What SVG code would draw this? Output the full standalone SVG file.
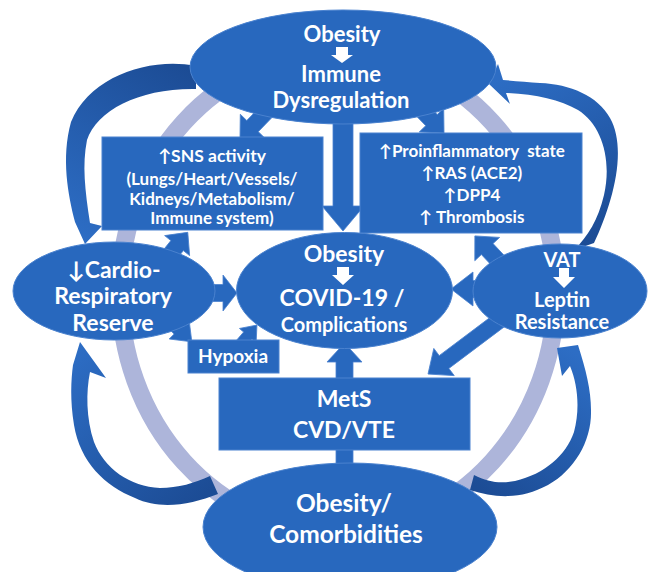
<svg xmlns="http://www.w3.org/2000/svg" width="653" height="572" viewBox="0 0 653 572">
<defs>
<style>
.n{fill:#2868be;stroke:#4a82cf;stroke-width:1}
.a{fill:#2868be;stroke:#4a82cf;stroke-width:0.8}
.t{font-family:Lato,"Liberation Sans",sans-serif;font-weight:700;fill:#fff;text-anchor:middle}
.w{fill:#fff}
</style>
<linearGradient id="gTL" gradientUnits="userSpaceOnUse" x1="190" y1="70" x2="85" y2="240"><stop offset="0" stop-color="#1c4c95"/><stop offset="1" stop-color="#2d6dc4"/></linearGradient>
<linearGradient id="gTR" gradientUnits="userSpaceOnUse" x1="585" y1="245" x2="495" y2="80"><stop offset="0" stop-color="#1c4c95"/><stop offset="1" stop-color="#2d6dc4"/></linearGradient>
<linearGradient id="gBL" gradientUnits="userSpaceOnUse" x1="210" y1="490" x2="80" y2="345"><stop offset="0" stop-color="#1c4c95"/><stop offset="1" stop-color="#2d6dc4"/></linearGradient>
<linearGradient id="gBR" gradientUnits="userSpaceOnUse" x1="478" y1="488" x2="570" y2="350"><stop offset="0" stop-color="#1c4c95"/><stop offset="1" stop-color="#2d6dc4"/></linearGradient>
</defs>
<rect width="653" height="572" fill="#fff"/>
<g id="ring"><ellipse cx="338" cy="292" rx="218" ry="240" fill="none" stroke="#adb5da" stroke-width="18"/></g>
<g id="connectors">
<path fill="url(#gTL)" d="M196,66 C150,57 90,76 71,122 C61,158 68,195 75,222 L85,244 L102,226 L90,223 C85,190 82,165 87,140 C97,110 140,88 196,89 Z"/>
<path fill="url(#gTR)" d="M574,250 L594,243 C612,205 628,150 610,118 C598,96 570,84 540,83 C528,82 515,81 503,80 L498,64 L489,84 L510,104 L506,93 C535,94 560,100 578,110 C602,125 612,160 604,195 C598,220 588,236 574,250 Z"/>
<path fill="url(#gBL)" d="M218,494 C190,505 160,510 135,498 C105,486 80,462 74,425 C70,400 71,380 73,365 L80,342 L106,378 L90,372 C86,392 86,418 94,442 C104,468 130,487 160,488 C178,488 195,483 210,476 Z"/>
<path fill="url(#gBR)" d="M470,490 C495,498 520,500 548,485 C575,470 592,440 591,410 C591,390 586,370 578,345 L557,348 L562,376 L570,366 C578,385 580,410 574,432 C566,455 545,474 515,481 C500,484 488,482 474,475 Z"/>
<path class="a" d="M0,-8 L28,-8 L28,-17 L46,0 L28,17 L28,8 L0,8 Z" transform="translate(272,106) rotate(134.1)"/>
<path class="a" d="M333,115 L353,115 L353,206 L364,206 L343,231 L322,206 L333,206 Z"/>
<path class="a" d="M0,-8 L28,-8 L28,-17 L46,0 L28,17 L28,8 L0,8 Z" transform="translate(412,100) rotate(45.9)"/>
<path class="a" d="M0,-8 L21,-8 L21,-16 L38,0 L21,16 L21,8 L0,8 Z" transform="translate(164,262) rotate(-51.3)"/>
<path class="a" d="M200,284.5 L223,284.5 L223,275 L237,293 L223,311 L223,301.5 L200,301.5 Z"/>
<path class="a" d="M0,-7 L27,-7 L27,-14 L45,0 L27,14 L27,7 L0,7 Z" transform="translate(160,310) rotate(45)"/>
<path class="a" d="M0,-5.5 L15,-5.5 L15,-11 L29,0 L15,11 L15,5.5 L0,5.5 Z" transform="translate(238,347) rotate(-49.2)"/>
<path class="a" d="M0,-8 L26,-8 L26,-17 L44,0 L26,17 L26,8 L0,8 Z" transform="translate(505,268) rotate(226.8)"/>
<path class="a" d="M484,280.5 L473,280.5 L473,272 L451,289 L473,306 L473,297.5 L484,297.5 Z"/>
<path class="a" d="M0,-8 L70,-8 L70,-17 L90,0 L70,17 L70,8 L0,8 Z" transform="translate(500,320) rotate(143.1)"/>
<path class="a" d="M336,470 L353,470 L353,362 L362,362 L344.5,343 L327,362 L336,362 Z"/>
</g>
<g id="top">
<ellipse class="n" cx="343" cy="67" rx="153" ry="57"/>
<text class="t" x="342" y="42" font-size="22">Obesity</text>
<path class="w" d="M336,47 H348 V55 H353 L342,63 L331,55 H336 Z"/>
<text class="t" x="341" y="82" font-size="22">Immune</text>
<text class="t" x="341" y="108" font-size="22">Dysregulation</text>
</g>
<g id="sns">
<rect class="n" x="102" y="137" width="221" height="93"/>
<text class="t" x="212" y="162" font-size="17.5">↑SNS activity</text>
<text class="t" x="212" y="185" font-size="17">(Lungs/Heart/Vessels/</text>
<text class="t" x="212" y="205" font-size="17">Kidneys/Metabolism/</text>
<text class="t" x="212" y="224" font-size="17">Immune system)</text>
</g>
<g id="proinf">
<rect class="n" x="360" y="133" width="222" height="100"/>
<text class="t" x="472" y="157" font-size="17" xml:space="preserve">↑Proinflammatory  state</text>
<text class="t" x="472" y="179" font-size="17">↑RAS (ACE2)</text>
<text class="t" x="472" y="201" font-size="17">↑DPP4</text>
<text class="t" x="472" y="223" font-size="17">↑ Thrombosis</text>
</g>
<g id="center">
<ellipse class="n" cx="344.5" cy="290.5" rx="108" ry="58"/>
<text class="t" x="344" y="262" font-size="23">Obesity</text>
<path class="w" d="M337,267 H349 V275 H354 L343,285 L332,275 H337 Z"/>
<text class="t" x="342" y="306" font-size="23">COVID-19 /</text>
<text class="t" x="344" y="332" font-size="20">Complications</text>
</g>
<g id="cardio">
<ellipse class="n" cx="114" cy="291" rx="101" ry="49"/>
<text class="t" x="114" y="278" font-size="23">↓Cardio-</text>
<text class="t" x="113" y="304" font-size="23">Respiratory</text>
<text class="t" x="113" y="331" font-size="23">Reserve</text>
</g>
<g id="vat">
<ellipse class="n" cx="560" cy="291" rx="87" ry="47"/>
<text class="t" x="562" y="267" font-size="20">VAT</text>
<path class="w" d="M559,268 H569 V277 H575 L564,288 L553,277 H559 Z"/>
<text class="t" x="562" y="307" font-size="20">Leptin</text>
<text class="t" x="562" y="329" font-size="20">Resistance</text>
</g>
<g id="hypoxia">
<rect class="n" x="188" y="340" width="91" height="33"/>
<text class="t" x="233" y="363" font-size="19">Hypoxia</text>
</g>
<g id="mets">
<rect class="n" x="219" y="378" width="251" height="72"/>
<text class="t" x="344" y="407" font-size="23">MetS</text>
<text class="t" x="344" y="438" font-size="23">CVD/VTE</text>
</g>
<g id="bottom">
<ellipse class="n" cx="350" cy="527" rx="147" ry="64"/>
<text class="t" x="344" y="512" font-size="24.5">Obesity/</text>
<text class="t" x="346" y="543" font-size="24.5">Comorbidities</text>
</g>
</svg>
